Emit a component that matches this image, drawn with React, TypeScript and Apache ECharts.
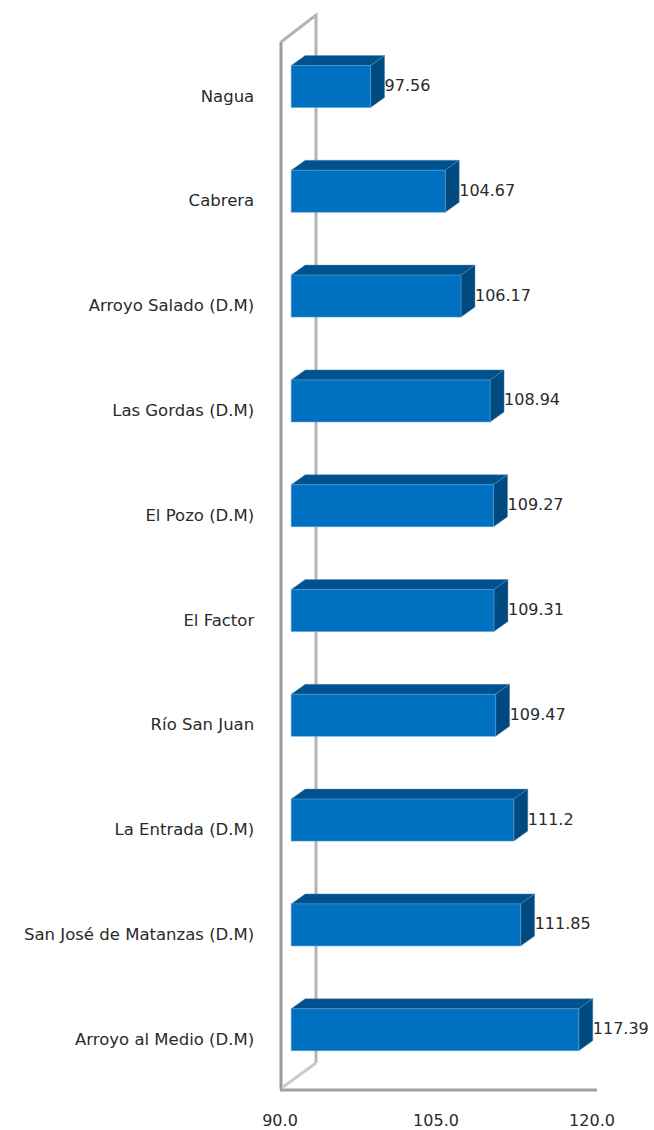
import React, { useEffect, useRef } from "react";
import * as echarts from "echarts";

const categories = [
  "Nagua",
  "Cabrera",
  "Arroyo Salado (D.M)",
  "Las Gordas (D.M)",
  "El Pozo (D.M)",
  "El Factor",
  "Río San Juan",
  "La Entrada (D.M)",
  "San José de Matanzas (D.M)",
  "Arroyo al Medio (D.M)",
];
const values = [97.56, 104.67, 106.17, 108.94, 109.27, 109.31, 109.47, 111.2, 111.85, 117.39];
const valueLabels = ["97.56", "104.67", "106.17", "108.94", "109.27", "109.31", "109.47", "111.2", "111.85", "117.39"];

const FONT = "'DejaVu Sans'";
const DX = 14;
const DY = 10;
const FACE_H = 42;
const LABEL_SHIFT = 9.5;

export default function App() {
  const ref = useRef<HTMLDivElement>(null);
  useEffect(() => {
    document.body.style.margin = "0";
    const chart = echarts.init(ref.current!, undefined, { renderer: "svg" });
    chart.setOption({
      animation: false,
      backgroundColor: "#ffffff",
      grid: [
        { left: 291.2, width: 315, top: 43.6, height: 1048 },
        { left: 280, width: 312, top: 43.6, height: 1048 },
      ],
      xAxis: [
        { gridIndex: 0, type: "value", min: 90, max: 120, show: false },
        {
          gridIndex: 1,
          type: "value",
          min: 90,
          max: 120,
          interval: 15,
          axisLine: { show: false },
          axisTick: { show: false },
          splitLine: { show: false },
          axisLabel: {
            color: "#2a2a2a",
            fontFamily: FONT,
            fontSize: 16,
            margin: 21,
            formatter: (v: number) => v.toFixed(1),
          },
        },
      ],
      yAxis: [
        {
          gridIndex: 0,
          type: "category",
          inverse: true,
          data: categories,
          axisLine: { show: false },
          axisTick: { show: false },
          axisLabel: { color: "#2a2a2a", fontFamily: FONT, fontSize: 16.5, margin: 37 },
        },
        { gridIndex: 1, type: "category", inverse: true, data: categories, show: false },
      ],
      graphic: [
        { type: "polyline", z: 1, shape: { points: [[281, 1089], [281, 42]] }, style: { stroke: "#9c9c9c", lineWidth: 3, fill: "none" } },
        { type: "polyline", z: 1, shape: { points: [[281, 42], [316, 15], [316, 1063]] }, style: { stroke: "#b4b4b4", lineWidth: 3, fill: "none" } },
        { type: "line", z: 1, shape: { x1: 283, y1: 1087, x2: 316, y2: 1063 }, style: { stroke: "#cbcbcb", lineWidth: 3 } },
        { type: "line", z: 1, shape: { x1: 280, y1: 1090, x2: 597, y2: 1090 }, style: { stroke: "#a0a0a0", lineWidth: 3 } },
      ],
      series: [
        {
          type: "custom",
          xAxisIndex: 0,
          yAxisIndex: 0,
          z: 5,
          data: values.map((v, i) => [v, i, valueLabels[i]]),
          encode: { x: 0, y: 1 },
          renderItem: (params: any, api: any) => {
            const i = params.dataIndex;
            const end = api.coord([api.value(0), i]);
            const start = api.coord([90, i]);
            const x0 = start[0];
            const x1 = end[0];
            const yT = end[1] - LABEL_SHIFT - FACE_H / 2;
            const yB = yT + FACE_H;
            return {
              type: "group",
              children: [
                {
                  type: "polygon",
                  shape: { points: [[x0, yT], [x0 + DX, yT - DY], [x1 + DX, yT - DY], [x1, yT]] },
                  style: { fill: "#00528f", stroke: "rgba(90,140,180,0.45)", lineWidth: 1 },
                },
                {
                  type: "polygon",
                  shape: { points: [[x1, yT], [x1 + DX, yT - DY], [x1 + DX, yB - DY], [x1, yB]] },
                  style: { fill: "#004a80", stroke: "rgba(90,140,180,0.45)", lineWidth: 1 },
                },
                {
                  type: "rect",
                  shape: { x: x0, y: yT, width: x1 - x0, height: FACE_H },
                  style: { fill: "#0070c0", stroke: "rgba(90,160,215,0.55)", lineWidth: 1 },
                },
                {
                  type: "text",
                  style: {
                    x: x1 + DX,
                    y: yT + FACE_H / 2 - 1,
                    text: String(api.value(2)),
                    fill: "#2a2a2a",
                    font: "16px " + FONT,
                    align: "left",
                    verticalAlign: "middle",
                  },
                },
              ],
            };
          },
        },
      ],
    });
    return () => chart.dispose();
  }, []);
  return <div ref={ref} style={{ width: 654, height: 1130 }} />;
}
